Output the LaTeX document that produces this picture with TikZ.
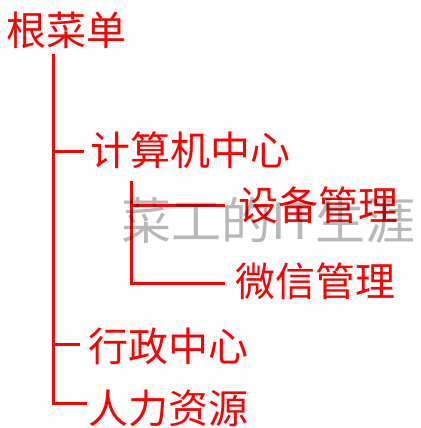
\documentclass[tikz,border=0pt]{standalone}
\usepackage{fontspec}
\newfontfamily\cjk{Noto Sans CJK SC}
\begin{document}
\begin{tikzpicture}[x=1pt,y=-1pt,
  lbl/.style={inner sep=0pt, anchor=west, text=red, font=\cjk\fontsize{40}{40}\selectfont},
  tree/.style={draw=red, line width=3pt},
  wm/.style={inner sep=0pt, anchor=west, text=black, text opacity=0.28, font=\cjk\fontsize{50}{50}\selectfont}]
\useasboundingbox (0,0) rectangle (420,428);
% nodes
\node[lbl] (root) at (6,30) {根菜单};
\node[lbl] (js) at (90,150.5) {计算机中心};
\node[lbl] (sb) at (238,205) {设备管理};
\node[lbl] (wx) at (235,281) {微信管理};
\node[lbl] (xz) at (88,346) {行政中心};
\node[lbl] (hr) at (88,408) {人力资源};
% connector coordinates
\coordinate (rootStem) at (53,54);
\coordinate (jsIn) at (84,151);
\coordinate (xzIn) at (80,344);
\coordinate (hrIn) at (87,403);
\coordinate (jsStem) at (131,181);
\coordinate (sbIn) at (225,205);
\coordinate (wxIn) at (225,283);
% connectors
\draw[tree] (rootStem) |- (hrIn);
\draw[tree] (rootStem |- jsIn) -- (jsIn);
\draw[tree] (rootStem |- xzIn) -- (xzIn);
\draw[tree] (jsStem) |- (wxIn);
\draw[tree] (jsStem |- sbIn) -- (sbIn);
% watermark
\node[wm] (mark) at (121,220) {菜工的IT生涯};
\end{tikzpicture}
\end{document}
